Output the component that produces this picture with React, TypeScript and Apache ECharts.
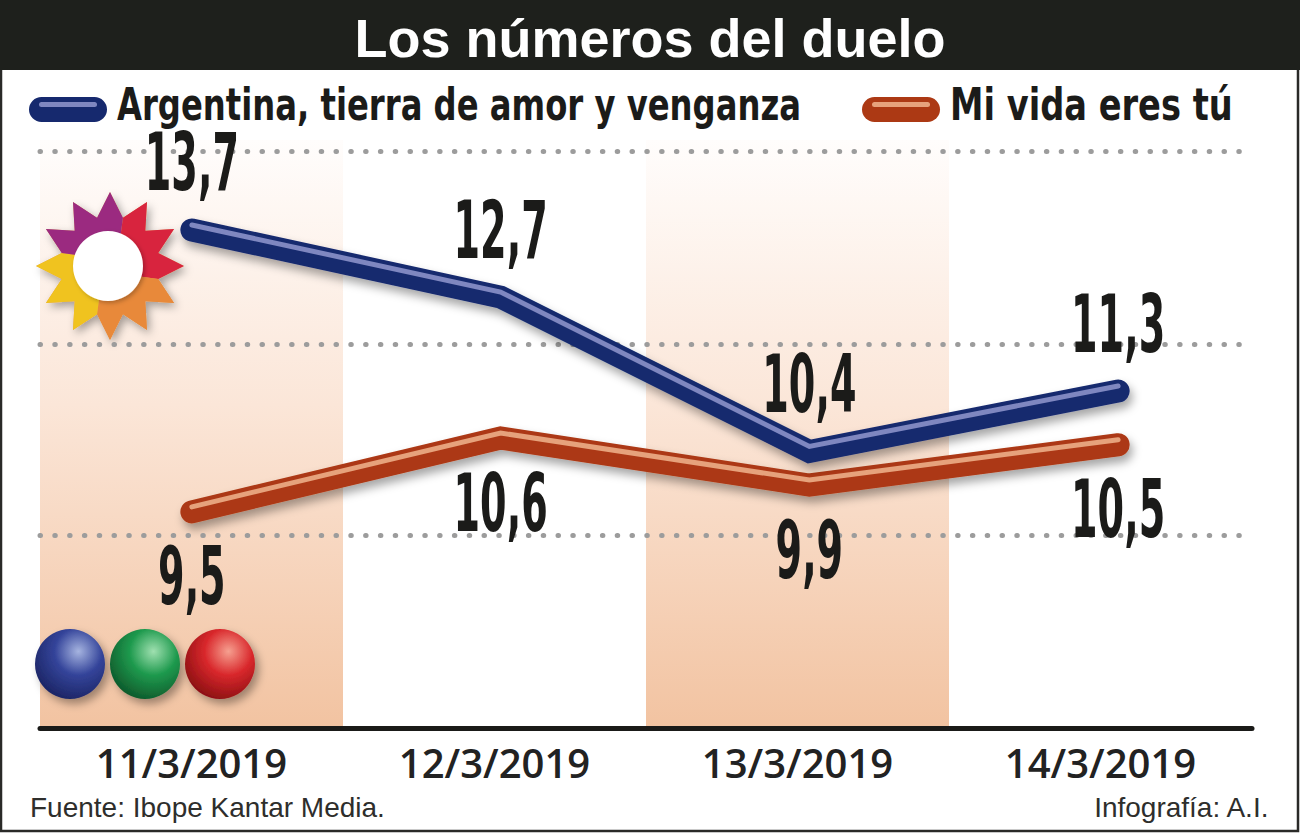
import React, { useEffect, useRef } from "react";
import * as echarts from "echarts";

const title = "Los números del duelo";
const categories = ["11/3/2019", "12/3/2019", "13/3/2019", "14/3/2019"];
const seriesNames = ["Argentina, tierra de amor y venganza", "Mi vida eres tú"];
const argentina = [13.7, 12.7, 10.4, 11.3];
const miVida = [9.5, 10.6, 9.9, 10.5];
const gridLevels = [9.15, 12.0, 14.87];
const yMin = 6.28;
const yMax = 15.04;
const sourceText = "Fuente: Ibope Kantar Media.";
const creditText = "Infografía: A.I.";

const NARROW = "'Liberation Sans Narrow','Arial Narrow','DejaVu Sans Condensed',sans-serif";
const SANS = "'Liberation Sans',Arial,sans-serif";

const fmt = (v: number) => v.toFixed(1).replace(".", ",");

function starPolygons(cx: number, cy: number, R: number, r: number) {
  const colors = ["#d8243e", "#e8893a", "#f0c31f", "#9b2a80"];
  const starts = [-60, 30, 120, 210];
  const pt = (deg: number, rad: number) => {
    const a = (deg * Math.PI) / 180;
    return [cx + rad * Math.cos(a), cy + rad * Math.sin(a)];
  };
  const polys: any[] = [];
  const full: number[][] = [];
  for (let k = 0; k < 12; k++) {
    full.push(pt(k * 30, R));
    full.push(pt(k * 30 + 15, r));
  }
  polys.push({
    type: "polygon",
    z: 5,
    shape: { points: full },
    style: { fill: "#e0a060", shadowBlur: 8, shadowColor: "rgba(0,0,0,0.35)", shadowOffsetX: 3, shadowOffsetY: 4 },
  });
  starts.forEach((s, i) => {
    const pts: number[][] = [pt(s - 15 + 20, 14)];
    pts.push(pt(s - 15, r));
    for (let j = 0; j < 3; j++) {
      pts.push(pt(s + j * 30, R));
      pts.push(pt(s + j * 30 + 15, r));
    }
    pts.push(pt(s + 75 + 20, 14));
    polys.push({ type: "polygon", z: 6, shape: { points: pts }, style: { fill: colors[i] } });
  });
  polys.push({
    type: "circle",
    z: 7,
    shape: { cx: cx - 2, cy, r: 35 },
    style: { fill: "#ffffff", shadowBlur: 4, shadowColor: "rgba(0,0,0,0.25)", shadowOffsetX: 2, shadowOffsetY: 2 },
  });
  return polys;
}

function ball(cx: number, cy: number, hl: string, mid: string, dark: string) {
  return {
    type: "circle",
    z: 6,
    shape: { cx, cy, r: 35 },
    style: {
      fill: {
        type: "radial",
        x: 0.62,
        y: 0.32,
        r: 0.75,
        colorStops: [
          { offset: 0, color: hl },
          { offset: 0.45, color: mid },
          { offset: 1, color: dark },
        ],
      },
      shadowBlur: 8,
      shadowColor: "rgba(0,0,0,0.35)",
      shadowOffsetX: 4,
      shadowOffsetY: 5,
    },
  };
}

function legendItem(x: number, color: string, stripe: string, text: string, sx: number) {
  return [
    {
      type: "rect",
      z: 20,
      shape: { x, y: 97, width: 78, height: 25, r: 12.5 },
      style: { fill: color },
    },
    {
      type: "rect",
      z: 21,
      shape: { x: x + 10, y: 102, width: 58, height: 5, r: 2.5 },
      style: { fill: stripe },
    },
    {
      type: "text",
      z: 21,
      x: x + 88,
      y: 105,
      scaleX: sx,
      style: {
        text,
        fill: "#1b1b19",
        fontFamily: NARROW,
        fontWeight: "bold",
        fontSize: 44,
        align: "left",
        verticalAlign: "middle",
      },
    },
  ];
}

const labelSeries = (values: number[], offset: number, gridIdx: number) => ({
  type: "custom",
  xAxisIndex: gridIdx,
  yAxisIndex: gridIdx,
  z: 10,
  silent: true,
  data: values.map((v, i) => [i, v]),
  renderItem: (_p: any, api: any) => {
    const c = api.coord([api.value(0), api.value(1)]);
    return {
      type: "text",
      x: c[0],
      y: c[1] + offset,
      scaleX: 0.53,
      style: {
        text: fmt(api.value(1)),
        fontFamily: NARROW,
        fontWeight: "bold",
        fontSize: 80,
        fill: "#1b1b19",
        align: "center",
        verticalAlign: "middle",
      },
    };
  },
});

export default function App() {
  const ref = useRef<HTMLDivElement>(null);
  useEffect(() => {
    document.body.style.margin = "0";
    const chart = echarts.init(ref.current!, null, { renderer: "svg" });
    const shadow = { shadowColor: "rgba(0,0,0,0.35)", shadowBlur: 10, shadowOffsetX: 3, shadowOffsetY: 6 };
    const lineBase = { type: "line", symbol: "none", silent: true, smooth: false };
    const option: any = {
      animation: false,
      backgroundColor: "#ffffff",
      grid: [
        { left: 40, right: 48, top: 140, bottom: 106 },
        { left: 37.5, right: 27.5, top: 140, bottom: 106 },
        { left: 37.5, right: 27.5, top: 135, bottom: 111 },
      ],
      xAxis: [
        {
          type: "category",
          gridIndex: 0,
          data: categories,
          axisLine: { lineStyle: { color: "#1a1a18", width: 5, cap: "round" } },
          axisTick: { show: false },
          axisLabel: {
            interval: 0,
            margin: 14,
            color: "#222",
            fontFamily: "'Open Sans','DejaVu Sans',sans-serif",
            fontWeight: 600,
            fontSize: 40,
          },
          splitArea: {
            show: true,
            interval: 0,
            areaStyle: {
              color: [
                {
                  type: "linear",
                  x: 0,
                  y: 0,
                  x2: 0,
                  y2: 1,
                  colorStops: [
                    { offset: 0, color: "#fffdfc" },
                    { offset: 0.45, color: "#fbe6d8" },
                    { offset: 1, color: "#f2c3a1" },
                  ],
                },
                "rgba(255,255,255,0)",
              ],
            },
          },
        },
        { type: "category", gridIndex: 1, data: categories, show: false },
        { type: "category", gridIndex: 2, data: categories, show: false },
      ],
      yAxis: [0, 1, 2].map((g) => ({
        type: "value",
        gridIndex: g,
        min: yMin,
        max: yMax,
        show: false,
        splitLine: { show: false },
      })),
      graphic: [
        { type: "rect", z: 0, shape: { x: 1, y: 1, width: 1297, height: 830 }, style: { fill: "none", stroke: "#2a2a28", lineWidth: 2.5 } },
        { type: "rect", z: 1, shape: { x: 0, y: 0, width: 1300, height: 70 }, style: { fill: "#1e201c" } },
        {
          type: "text",
          z: 2,
          x: 650,
          y: 38,
          style: { text: title, fill: "#ffffff", fontFamily: SANS, fontWeight: "bold", fontSize: 54, align: "center", verticalAlign: "middle" },
        },
        ...legendItem(29, "#16296e", "#7f87c0", seriesNames[0], 0.815),
        ...legendItem(862, "#ac3914", "#e6a27c", seriesNames[1], 0.85),
        ...starPolygons(110, 266, 74, 50),
        ball(70, 664, "#a6b4e0", "#34449a", "#1a2260"),
        ball(145, 664, "#9fe0b0", "#1f9a4e", "#0c5428"),
        ball(220, 664, "#f6a090", "#d9282c", "#850d10"),
        {
          type: "text",
          left: 30,
          top: 793,
          style: { text: sourceText, fill: "#2e2e2c", fontFamily: SANS, fontSize: 28 },
        },
        {
          type: "text",
          right: 30,
          top: 793,
          style: { text: creditText, fill: "#2e2e2c", fontFamily: SANS, fontSize: 28 },
        },
      ],
      series: [
        {
          type: "line",
          xAxisIndex: 0,
          yAxisIndex: 0,
          data: [],
          silent: true,
          markLine: {
            silent: true,
            symbol: "none",
            label: { show: false },
            lineStyle: { color: "#9c9c9c", width: 5, type: [0.5, 14.3], cap: "round" },
            data: gridLevels.map((v) => ({ yAxis: v })),
          },
        },
        {
          ...lineBase,
          name: seriesNames[1],
          xAxisIndex: 1,
          yAxisIndex: 1,
          z: 3,
          color: "#ac3914",
          data: miVida,
          lineStyle: { width: 23, color: "#ac3914", cap: "round", join: "miter", ...shadow },
        },
        {
          ...lineBase,
          name: "miVidaHighlight",
          xAxisIndex: 2,
          yAxisIndex: 2,
          z: 4,
          data: miVida,
          lineStyle: { width: 5, color: "#e6a27c", cap: "round", join: "miter" },
        },
        {
          ...lineBase,
          name: seriesNames[0],
          xAxisIndex: 1,
          yAxisIndex: 1,
          z: 5,
          color: "#16296e",
          data: argentina,
          lineStyle: { width: 23, color: "#16296e", cap: "round", join: "miter", ...shadow },
        },
        {
          ...lineBase,
          name: "argentinaHighlight",
          xAxisIndex: 2,
          yAxisIndex: 2,
          z: 6,
          data: argentina,
          lineStyle: { width: 5, color: "#7f87c0", cap: "round", join: "miter" },
        },
        labelSeries(argentina, -67, 1),
        labelSeries(miVida, 65, 1),
      ],
    };
    chart.setOption(option);
    return () => chart.dispose();
  }, []);
  return <div ref={ref} style={{ width: 1300, height: 834 }} />;
}
